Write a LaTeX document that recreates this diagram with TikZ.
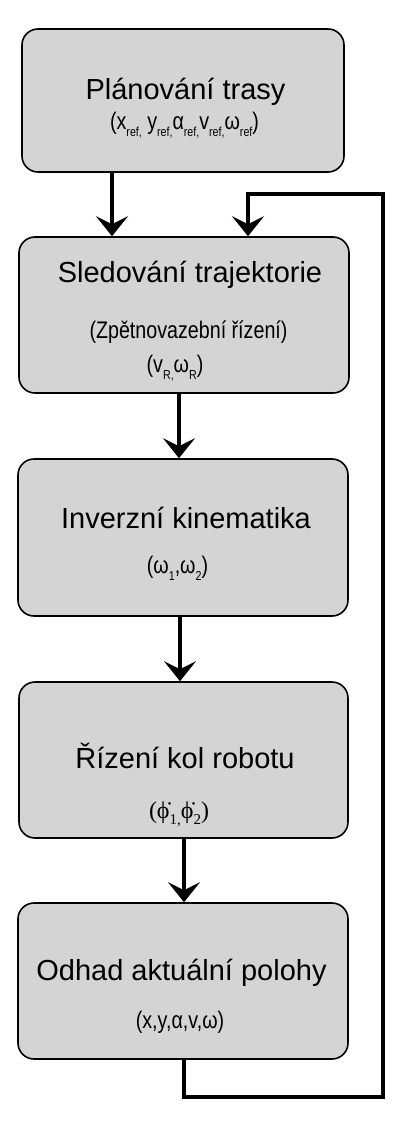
\documentclass[tikz,border=0pt]{standalone}
\usepackage{fontspec}
\setmainfont{Liberation Sans}
\newfontfamily\narrowfont[FakeStretch=0.82]{Liberation Sans}
\newfontfamily\seriffont{Liberation Serif}
\usetikzlibrary{arrows.meta}
\definecolor{boxgray}{RGB}{212,212,212}
\newcommand\sbs[1]{\raisebox{-7pt}{\fontsize{13}{13}\selectfont #1}}
\newcommand\sbp[1]{\raisebox{-6pt}{\fontsize{15}{15}\selectfont #1}}
\begin{document}
\begin{tikzpicture}[x=1pt,y=-1pt,
  box/.style={draw=black, line width=1.6pt, fill=boxgray, rounded corners=16pt, inner sep=0pt},
  title/.style={anchor=base, inner sep=0pt, font=\fontsize{29}{32}\selectfont},
  sub/.style={anchor=base, inner sep=0pt, font=\narrowfont\fontsize{24}{26}\selectfont},
  flow/.style={line width=4.6pt, line join=miter, -{Stealth[length=20pt,width=32pt,inset=8pt]}}
]
\useasboundingbox (0,0) rectangle (412,1123);

% boxes
\node[box, minimum width=322pt, minimum height=143pt] (b1) at (183,100.5) {};
\node[box, minimum width=330pt, minimum height=156pt] (b2) at (184,315) {};
\node[box, minimum width=330pt, minimum height=157pt] (b3) at (183,537.5) {};
\node[box, minimum width=329pt, minimum height=156pt] (b4) at (183.5,760) {};
\node[box, minimum width=330pt, minimum height=156pt] (b5) at (183,981) {};

% texts
\node[title] (t1) at (185.5,100) {Plánování trasy};
\node[sub] (s1) at (184.5,130) {(x\sbs{ref,} y\sbs{ref,}α\sbs{ref,}v\sbs{ref,}ω\sbs{ref})};
\node[title] (t2) at (190,282) {Sledování trajektorie};
\node[sub] (s2a) at (188.5,338) {(Zpětnovazební řízení)};
\node[sub] (s2b) at (175,372) {(v\sbs{R,}ω\sbs{R})};
\node[title] (t3) at (186,528) {Inverzní kinematika};
\node[sub] (s3) at (177.5,573) {(ω\sbs{1},ω\sbs{2})};
\node[title] (t4) at (185,768) {Řízení kol robotu};
\node[anchor=base, inner sep=0pt, font=\seriffont\fontsize{24}{26}\selectfont] (s4) at (179,818) {(ϕ̇\sbp{1,}ϕ̇\sbp{2})};
\node[title] (t5) at (181.5,980) {Odhad aktuální polohy};
\node[sub] (s5) at (180,1028) {(x,y,α,v,ω)};

% connector anchors
\coordinate (a1) at (112,0);
\coordinate (a2) at (179,0);
\coordinate (a3) at (180,0);
\coordinate (a4) at (184,0);
\coordinate (fb1) at (184,1097);
\coordinate (fb2) at (383,194);
\coordinate (fb3) at (248,194);

\draw[flow] (b1.south -| a1) -- (b2.north -| a1);
\draw[flow] (b2.south -| a2) -- (b3.north -| a2);
\draw[flow] (b3.south -| a3) -- (b4.north -| a3);
\draw[flow] (b4.south -| a4) -- (b5.north -| a4);
\draw[flow] (b5.south -| fb1) -- (fb1) -- (fb1 -| fb2) -- (fb2) -- (fb3) -- (b2.north -| fb3);
\end{tikzpicture}
\end{document}
